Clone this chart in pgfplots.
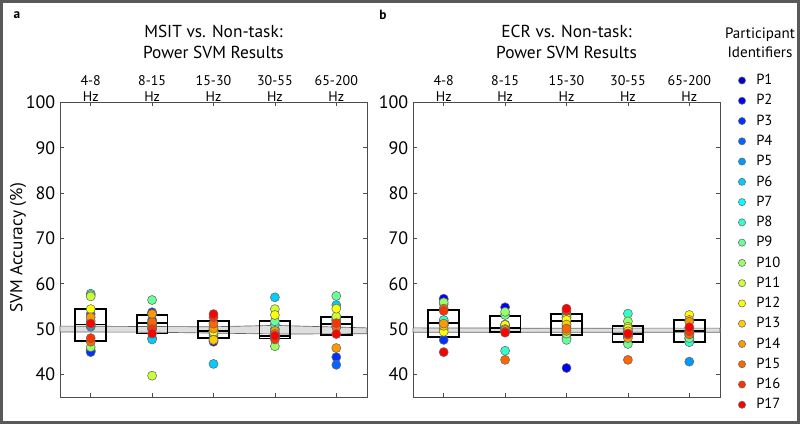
\documentclass[border=0pt]{standalone}
\usepackage{fontspec}
\setmainfont{PT Sans}
\usepackage{pgfplots}
\pgfplotsset{compat=1.18}
\usepackage{pgfplotstable}

\definecolor{c1}{rgb}{0,0,0.8}
\definecolor{c2}{rgb}{0,0,1}
\definecolor{c3}{rgb}{0,0.2,1}
\definecolor{c4}{rgb}{0,0.4,1}
\definecolor{c5}{rgb}{0,0.6,1}
\definecolor{c6}{rgb}{0,0.8,1}
\definecolor{c7}{rgb}{0,1,1}
\definecolor{c8}{rgb}{0.2,1,0.8}
\definecolor{c9}{rgb}{0.4,1,0.6}
\definecolor{c10}{rgb}{0.6,1,0.4}
\definecolor{c11}{rgb}{0.8,1,0.2}
\definecolor{c12}{rgb}{1,1,0}
\definecolor{c13}{rgb}{1,0.8,0}
\definecolor{c14}{rgb}{1,0.6,0}
\definecolor{c15}{rgb}{1,0.4,0}
\definecolor{c16}{rgb}{1,0.2,0}
\definecolor{c17}{rgb}{1,0,0}

% MSIT vs Non-task (rows: frequency bands, columns: participants)
\pgfplotstableread{
cat P1 P2 P3 P4 P5 P6 P7 P8 P9 P10 P11 P12 P13 P14 P15 P16 P17
1 45.3 45.1 44.9 53.3 50.5 50.7 51.0 57.8 57.5 46.0 57.2 54.4 51.8 52.6 47.2 48.0 51.2
2 53.7 53.5 52.0 51.0 48.0 47.7 50.5 51.0 56.4 50.0 39.7 50.5 51.5 53.3 51.5 50.0 49.0
3 47.2 47.5 48.0 48.5 49.0 42.3 49.5 50.0 50.5 49.0 49.5 49.4 47.6 50.1 51.2 52.6 53.3
4 48.0 48.2 48.5 49.0 49.0 57.0 50.0 51.0 51.7 46.2 54.4 53.1 49.0 49.6 48.9 47.7 48.5
5 51.0 50.5 43.8 42.1 52.0 55.3 52.5 52.0 57.3 51.5 52.8 54.5 51.0 45.8 50.4 51.3 48.9
}\dataA

% ECR vs Non-task
\pgfplotstableread{
cat P1 P2 P3 P4 P5 P6 P7 P8 P9 P10 P11 P12 P13 P14 P15 P16 P17
1 56.5 56.7 47.6 51.5 51.8 51.0 51.0 52.0 55.5 55.9 50.0 49.4 50.7 51.2 54.5 54.0 44.9
2 50.0 54.8 50.5 50.2 50.0 50.3 51.0 45.2 53.1 53.8 50.8 50.9 50.0 49.8 43.2 49.4 49.2
3 50.5 41.4 51.0 52.5 53.0 53.5 53.1 48.0 47.6 49.0 52.5 52.0 51.0 49.6 50.1 54.0 54.5
4 48.5 49.0 49.0 48.5 49.5 50.0 49.0 53.4 46.7 51.7 50.5 50.1 49.5 48.0 43.2 48.8 49.0
5 48.0 47.8 48.5 49.0 42.8 49.5 47.2 47.1 48.0 49.0 50.0 53.1 52.0 51.6 48.8 49.5 50.4
}\dataB

\pgfplotsset{
  panel/.style={
    scale only axis, width=230.25pt, height=220.9pt, anchor=south west,
    xmin=0.5, xmax=5.5, ymin=35, ymax=100,
    xtick={1,2,3,4,5},
    xticklabels={{4-8\\Hz},{8-15\\Hz},{15-30\\Hz},{30-55\\Hz},{65-200\\Hz}},
    xtick pos=both, xticklabel pos=upper,
    ytick={40,50,60,70,80,90,100},
    ytick pos=both, yticklabel pos=left,
    tick align=inside, major tick length=3pt,
    axis line style={black!70, line width=0.6pt},
    tick style={black!70, line width=0.5pt},
    xticklabel style={align=center, font=\fontsize{10.5}{12}\selectfont, inner sep=0.5pt},
    yticklabel style={font=\fontsize{13.5}{16}\selectfont},
    /pgf/number format/assume math mode=true,
    clip=false, unbounded coords=jump,
  },
  pts/.style={only marks, mark=*, mark size=3.4pt,
    mark options={fill=c#1, draw=black!60, line width=0.4pt}},
  bx/.style={black, line width=1.4pt, line cap=rect, line join=miter, no marks, forget plot},
}

\begin{document}
\begin{tikzpicture}
\useasboundingbox (0,0) rectangle (600pt,318pt);

% ---------- panel a ----------
\begin{axis}[panel, at={(45pt,20.25pt)}]
\addplot[fill=black!13, draw=black!60, line width=0.5pt, forget plot] coordinates {
  (0.5,50.65) (2,50.55) (3,50.5) (4,50.8) (5.5,50.25)
  (5.5,48.95) (4,48.9) (3,49.1) (2,49.3) (0.5,49.35) (0.5,50.65)};
% boxes: lower quartile, upper quartile, median
\addplot[bx] coordinates {(0.75,47.4) (1.25,47.4) (1.25,54.4) (0.75,54.4) (0.75,47.4) (1,nan) (0.75,51.0) (1.25,51.0)};
\addplot[bx] coordinates {(1.75,49.0) (2.25,49.0) (2.25,53.1) (1.75,53.1) (1.75,49.0) (2,nan) (1.75,51.3) (2.25,51.3)};
\addplot[bx] coordinates {(2.75,48.0) (3.25,48.0) (3.25,51.8) (2.75,51.8) (2.75,48.0) (3,nan) (2.75,49.6) (3.25,49.6)};
\addplot[bx] coordinates {(3.75,47.9) (4.25,47.9) (4.25,51.8) (3.75,51.8) (3.75,47.9) (4,nan) (3.75,48.5) (4.25,48.5)};
\addplot[bx] coordinates {(4.75,48.7) (5.25,48.7) (5.25,52.6) (4.75,52.6) (4.75,48.7) (5,nan) (4.75,51.1) (5.25,51.1)};
\pgfplotsinvokeforeach{1,...,17}{
  \addplot[pts=#1] table[x=cat, y=P#1] {\dataA};
}
\end{axis}

% ---------- panel b ----------
\begin{axis}[panel, at={(309.75pt,20.25pt)},
  legend style={draw=none, fill=none, at={(axis description cs:1.06,1.109)},
    anchor=north west, inner sep=0pt, outer sep=0pt, row sep=0pt,
    font=\fontsize{11}{13}\selectfont,
    nodes={inner sep=0pt, minimum height=15.2pt},
    /tikz/every odd column/.append style={column sep=8pt}},
  legend cell align=left,
  legend image code/.code={\draw[#1, mark size=2.7pt] plot coordinates {(0pt,0pt)};},
]
\addplot[fill=black!13, draw=black!60, line width=0.5pt, forget plot] coordinates {
  (0.5,50.25) (2,50.2) (3,50.15) (4,50.2) (5.5,50.2)
  (5.5,49.3) (4,49.3) (3,49.3) (2,49.3) (0.5,49.3) (0.5,50.25)};
\addplot[bx] coordinates {(0.75,48.3) (1.25,48.3) (1.25,54.2) (0.75,54.2) (0.75,48.3) (1,nan) (0.75,51.3) (1.25,51.3)};
\addplot[bx] coordinates {(1.75,49.3) (2.25,49.3) (2.25,52.9) (1.75,52.9) (1.75,49.3) (2,nan) (1.75,50.2) (2.25,50.2)};
\addplot[bx] coordinates {(2.75,48.7) (3.25,48.7) (3.25,53.4) (2.75,53.4) (2.75,48.7) (3,nan) (2.75,51.8) (3.25,51.8)};
\addplot[bx] coordinates {(3.75,47.2) (4.25,47.2) (4.25,50.7) (3.75,50.7) (3.75,47.2) (4,nan) (3.75,48.9) (4.25,48.9)};
\addplot[bx] coordinates {(4.75,47.2) (5.25,47.2) (5.25,52.0) (4.75,52.0) (4.75,47.2) (5,nan) (4.75,49.5) (5.25,49.5)};
\pgfplotsinvokeforeach{1,...,17}{
  \addplot[pts=#1] table[x=cat, y=P#1] {\dataB};
  \addlegendentry{P#1}
}
\end{axis}

% ---------- texts ----------
\node[font=\bfseries\fontsize{10}{12}\selectfont] at (12.75pt,306.75pt) {a};
\node[font=\bfseries\fontsize{10}{12}\selectfont] at (287.25pt,306.75pt) {b};
\node[align=center, font=\fontsize{13}{15.75}\selectfont] at (160.1pt,286.9pt) {MSIT vs. Non-task:\\Power SVM Results};
\node[align=center, font=\fontsize{13}{15.75}\selectfont] at (424.9pt,286.9pt) {ECR vs. Non-task:\\Power SVM Results};
\node[align=center, font=\fontsize{11.3}{14.25}\selectfont] at (570pt,286.1pt) {Participant\\Identifiers};
\node[rotate=90, font=\fontsize{13}{15}\selectfont] at (13.5pt,132pt) {SVM Accuracy (\%)};

\draw[black!65, line width=2pt] (1pt,1pt) rectangle (599pt,317pt);
\end{tikzpicture}
\end{document}
